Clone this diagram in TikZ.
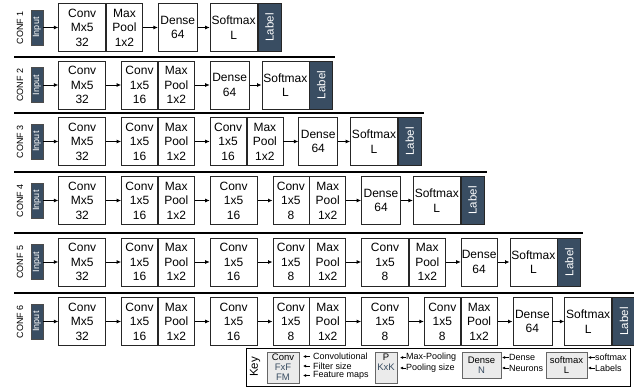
\documentclass[tikz,border=0pt]{standalone}
\usepackage{fontspec}
\setmainfont{Liberation Sans}
\usepackage{tikz}
\usetikzlibrary{positioning,arrows.meta}
\definecolor{slate}{RGB}{57,77,98}

\begin{document}
\begin{tikzpicture}[
            x=1pt, y=-1pt,
            node distance=15pt,
            >={Latex[length=4.5pt,width=4pt]},
            layer/.style={draw=black!85, line width=0.8pt, fill=white, inner sep=0pt,
                minimum height=48pt, align=center, font=\fontsize{12}{14.5}\selectfont},
            wide/.style={layer, minimum width=47pt},
            narrow/.style={layer, minimum width=36pt},
            dense/.style={layer, minimum width=39pt},
            soft/.style={layer, minimum width=47pt},
            lab/.style={layer, fill=slate, minimum width=23pt, text=white,
                font=\fontsize{11.5}{12}\selectfont},
            inbox/.style={draw=black!70, line width=0.6pt, fill=slate, inner sep=0pt,
                minimum width=12pt, minimum height=35pt, text=white,
                font=\fontsize{9}{9}\selectfont},
            conf/.style={inner sep=0pt, font=\fontsize{9}{10}\selectfont},
            link/.style={->, line width=0.8pt},
            sepline/.style={line width=1.6pt, shorten >=-2pt},
            keyframe/.style={draw, line width=0.7pt, minimum width=384pt, minimum height=38pt},
            keybox/.style={draw=black!60, line width=1pt, fill=black!8, inner sep=0pt,
                align=center, font=\fontsize{9.5}{10}\selectfont},
            keytext/.style={inner sep=0pt, anchor=west, font=\fontsize{9}{9}\selectfont},
            keyarrow/.style={<-, line width=0.6pt, >={Latex[length=3pt,width=3pt]}}
        ]
        \useasboundingbox (0,0) rectangle (634,388);

        % configuration labels and inputs
        \foreach \i/\y in {1/27.5,2/85,3/141.5,4/200.5,5/262,6/321.5} {
            \node[conf] (conf\i) at (20,\y) {\rotatebox{90}{CONF \i}};
            \node[inbox] (in\i) at (37,\y) {\rotatebox{90}{Input}};
        }

        % CONF 1
        \node[wide, right=of in1] (c11) {Conv\\Mx5\\32};
        \node[narrow, right=0pt of c11] (p11) {Max\\Pool\\1x2};
        \node[dense, right=of p11] (d1) {Dense\\64};
        \node[soft, right=12pt of d1] (s1) {Softmax\\L};
        \node[lab, right=0pt of s1] (l1) {\rotatebox{90}{Label}};
        \draw[link] (in1) -- (c11);
        \draw[link] (p11) -- (d1);
        \draw[link] (d1) -- (s1);

        % CONF 2
        \node[wide, right=of in2] (c21) {Conv\\Mx5\\32};
        \node[narrow, right=of c21] (c22) {Conv\\1x5\\16};
        \node[narrow, right=0pt of c22] (p22) {Max\\Pool\\1x2};
        \node[dense, right=of p22] (d2) {Dense\\64};
        \node[soft, right=12pt of d2] (s2) {Softmax\\L};
        \node[lab, right=0pt of s2] (l2) {\rotatebox{90}{Label}};
        \draw[link] (in2) -- (c21);
        \draw[link] (c21) -- (c22);
        \draw[link] (p22) -- (d2);
        \draw[link] (d2) -- (s2);

        % CONF 3
        \node[wide, right=of in3] (c31) {Conv\\Mx5\\32};
        \node[narrow, right=of c31] (c32) {Conv\\1x5\\16};
        \node[narrow, right=0pt of c32] (p32) {Max\\Pool\\1x2};
        \node[narrow, right=of p32] (c33) {Conv\\1x5\\16};
        \node[narrow, right=0pt of c33] (p33) {Max\\Pool\\1x2};
        \node[dense, right=of p33] (d3) {Dense\\64};
        \node[soft, right=12pt of d3] (s3) {Softmax\\L};
        \node[lab, right=0pt of s3] (l3) {\rotatebox{90}{Label}};
        \draw[link] (in3) -- (c31);
        \draw[link] (c31) -- (c32);
        \draw[link] (p32) -- (c33);
        \draw[link] (p33) -- (d3);
        \draw[link] (d3) -- (s3);

        % CONF 4
        \node[wide, right=of in4] (c41) {Conv\\Mx5\\32};
        \node[narrow, right=of c41] (c42) {Conv\\1x5\\16};
        \node[narrow, right=0pt of c42] (p42) {Max\\Pool\\1x2};
        \node[wide, right=of p42] (c43) {Conv\\1x5\\16};
        \node[narrow, right=of c43] (c44) {Conv\\1x5\\8};
        \node[narrow, right=0pt of c44] (p44) {Max\\Pool\\1x2};
        \node[dense, right=of p44] (d4) {Dense\\64};
        \node[soft, right=12pt of d4] (s4) {Softmax\\L};
        \node[lab, right=0pt of s4] (l4) {\rotatebox{90}{Label}};
        \draw[link] (in4) -- (c41);
        \draw[link] (c41) -- (c42);
        \draw[link] (p42) -- (c43);
        \draw[link] (c43) -- (c44);
        \draw[link] (p44) -- (d4);
        \draw[link] (d4) -- (s4);

        % CONF 5
        \node[wide, right=of in5] (c51) {Conv\\Mx5\\32};
        \node[narrow, right=of c51] (c52) {Conv\\1x5\\16};
        \node[narrow, right=0pt of c52] (p52) {Max\\Pool\\1x2};
        \node[wide, right=of p52] (c53) {Conv\\1x5\\16};
        \node[narrow, right=of c53] (c54) {Conv\\1x5\\8};
        \node[narrow, right=0pt of c54] (p54) {Max\\Pool\\1x2};
        \node[wide, right=of p54] (c55) {Conv\\1x5\\8};
        \node[narrow, right=0pt of c55] (p55) {Max\\Pool\\1x2};
        \node[dense, minimum width=36pt, right=of p55] (d5) {Dense\\64};
        \node[soft, right=12pt of d5] (s5) {Softmax\\L};
        \node[lab, right=0pt of s5] (l5) {\rotatebox{90}{Label}};
        \draw[link] (in5) -- (c51);
        \draw[link] (c51) -- (c52);
        \draw[link] (p52) -- (c53);
        \draw[link] (c53) -- (c54);
        \draw[link] (p54) -- (c55);
        \draw[link] (p55) -- (d5);
        \draw[link] (d5) -- (s5);

        % CONF 6
        \node[wide, right=of in6] (c61) {Conv\\Mx5\\32};
        \node[narrow, right=of c61] (c62) {Conv\\1x5\\16};
        \node[narrow, right=0pt of c62] (p62) {Max\\Pool\\1x2};
        \node[wide, right=of p62] (c63) {Conv\\1x5\\16};
        \node[narrow, right=of c63] (c64) {Conv\\1x5\\8};
        \node[narrow, right=0pt of c64] (p64) {Max\\Pool\\1x2};
        \node[wide, right=of p64] (c65) {Conv\\1x5\\8};
        \node[narrow, right=of c65] (c66) {Conv\\1x5\\8};
        \node[narrow, right=0pt of c66] (p66) {Max\\Pool\\1x2};
        \node[dense, right=of p66] (d6) {Dense\\64};
        \node[soft, right=12pt of d6] (s6) {Softmax\\L};
        \node[lab, right=0pt of s6] (l6) {\rotatebox{90}{Label}};
        \draw[link] (in6) -- (c61);
        \draw[link] (c61) -- (c62);
        \draw[link] (p62) -- (c63);
        \draw[link] (c63) -- (c64);
        \draw[link] (p64) -- (c65);
        \draw[link] (c65) -- (c66);
        \draw[link] (p66) -- (d6);
        \draw[link] (d6) -- (s6);

        % separators
        \foreach \k/\y in {1/57,2/113,3/172,4/233,5/293} {
            \pgfmathtruncatemacro\nxt{\k+1}
            \coordinate (sep\k) at (14,\y);
            \draw[sepline] (sep\k) -- (sep\k -| l\nxt.east);
        }

        % key
        \node[keyframe] (key) at (438,367) {};
        \node[inner sep=0pt, font=\fontsize{11.5}{12}\selectfont] (keyname) at (255,367) {\rotatebox{90}{Key}};

        \node[keybox, minimum width=32pt, minimum height=31pt] (kconv) at (283,367.5)
            {Conv\\{\color{slate}FxF}\\{\color{slate}FM}};
        \node[keytext] (kt1) at (313,356.5) {Convolutional};
        \node[keytext] (kt2) at (313,366) {Filter size};
        \node[keytext] (kt3) at (313,375.5) {Feature maps};
        \foreach \t in {kt1,kt2,kt3}
            \draw[keyarrow] (\t.west) ++(-10pt,0pt) -- ++(7pt,0pt);

        \node[keybox, minimum width=22pt, minimum height=31pt] (kpool) at (386,367.5)
            {P\\{\color{slate}KxK}\\\mbox{}};
        \node[keytext] (kt4) at (406,357.5) {Max-Pooling};
        \node[keytext] (kt5) at (406,368) {Pooling size};
        \foreach \t in {kt4,kt5}
            \draw[keyarrow] (\t.west) ++(-6pt,0pt) -- ++(6pt,0pt);

        \node[keybox, minimum width=39pt, minimum height=26pt] (kdense) at (481.5,365)
            {Dense\\{\color{slate}N}};
        \node[keytext] (kt6) at (509,357.5) {Dense};
        \node[keytext] (kt7) at (509,368) {Neurons};
        \foreach \t in {kt6,kt7}
            \draw[keyarrow] (\t.west) ++(-7pt,0pt) -- ++(7pt,0pt);

        \node[keybox, minimum width=41pt, minimum height=26pt] (ksoft) at (566.5,365)
            {softmax\\L};
        \node[keytext] (kt8) at (595,357.5) {softmax};
        \node[keytext] (kt9) at (595,368) {Labels};
        \foreach \t in {kt8,kt9}
            \draw[keyarrow] (\t.west) ++(-7pt,0pt) -- ++(7pt,0pt);
\end{tikzpicture}
\end{document}
